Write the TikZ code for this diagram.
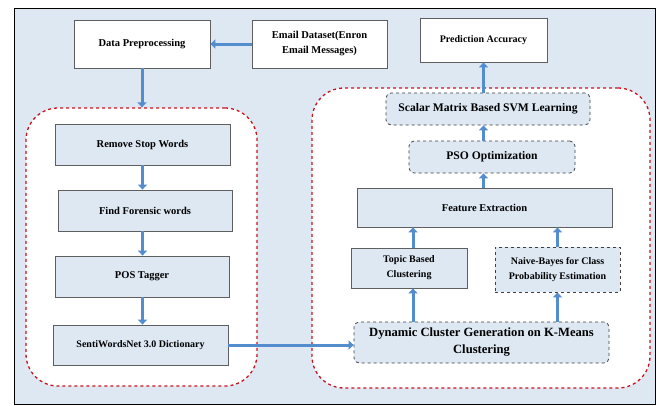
\documentclass[tikz,border=0pt]{standalone}
\usepackage{fontspec}
\setmainfont{Liberation Serif}
\usetikzlibrary{arrows.meta,positioning}
\definecolor{FrameBlue}{RGB}{221,232,243}
\definecolor{FlowBlue}{RGB}{84,141,205}
\definecolor{RegionRed}{RGB}{200,20,30}
\definecolor{BoxGray}{RGB}{95,95,95}

\begin{document}
\begin{tikzpicture}[x=1pt,y=-1pt,
  plainbox/.style={draw=BoxGray,fill=white,line width=0.8pt,align=center,font=\fontsize{10.5}{15}\selectfont\bfseries},
  stagebox/.style={draw=BoxGray,fill=FrameBlue,line width=0.8pt,align=center,font=\fontsize{10.5}{15}\selectfont\bfseries},
  dashbox/.style={stagebox,dashed,rounded corners=5pt,draw=black!75},
  region/.style={draw=RegionRed,fill=white,dashed,line width=1.3pt,rounded corners=32pt},
  flow/.style={draw=FlowBlue,line width=3pt,-{Triangle[length=5pt,width=9pt]}}]
\useasboundingbox (0,0) rectangle (662,405);
\draw[fill=FrameBlue,line width=0.8pt] (14,8) rectangle (655,404);

% dashed groups
\node[region,minimum width=231,minimum height=278] (leftgrp) at (141.5,247) {};
\node[region,minimum width=338,minimum height=300] (rightgrp) at (481,238) {};

% top row
\node[plainbox,minimum width=136,minimum height=48] (prep) at (142,44) {Data Preprocessing};
\node[plainbox,minimum width=135,minimum height=48] (email) at (319.5,44) {Email Dataset(Enron\\Email Messages)};
\node[plainbox,minimum width=127,minimum height=44,font=\fontsize{10}{12}\selectfont\bfseries] (predict) at (483.5,40) {Prediction Accuracy};

% left column
\node[stagebox,minimum width=175,minimum height=41] (stopw) at (142.5,144.5) {Remove Stop Words};
\node[stagebox,minimum width=174,minimum height=41] (forensic) at (145,210.5) {Find Forensic words};
\node[stagebox,minimum width=174,minimum height=41] (postag) at (142,276.5) {POS Tagger};
\node[stagebox,minimum width=175,minimum height=40,font=\fontsize{10}{12}\selectfont\bfseries] (senti) at (140.5,345) {SentiWordsNet 3.0 Dictionary};

% right column
\node[dashbox,minimum width=204,minimum height=32,font=\fontsize{11.6}{13}\selectfont\bfseries] (svm) at (488,109) {Scalar Matrix Based SVM Learning};
\node[dashbox,minimum width=166,minimum height=32,font=\fontsize{11.6}{13}\selectfont\bfseries] (pso) at (492,157) {PSO Optimization};
\node[stagebox,minimum width=255,minimum height=39] (feature) at (484.5,207.5) {Feature Extraction};
\node[stagebox,minimum width=116,minimum height=40,font=\fontsize{10}{15}\selectfont\bfseries] (topic) at (409,268) {Topic Based\\Clustering};
\node[dashbox,rounded corners=0pt,minimum width=125,minimum height=45,font=\fontsize{10}{15}\selectfont\bfseries] (naive) at (557.5,269.5) {Naive-Bayes for Class\\Probability Estimation};
\node[dashbox,minimum width=255,minimum height=41,font=\fontsize{12.6}{17}\selectfont\bfseries] (kmeans) at (481.5,342.5) {Dynamic Cluster Generation on K-Means\\Clustering};

% connectors
\draw[flow] (email) -- (prep);
\draw[flow] (prep) -- (prep |- leftgrp.north);
\draw[flow] (stopw.south) -- (stopw.south |- forensic.north);
\draw[flow] (stopw.south |- forensic.south) -- (stopw.south |- postag.north);
\draw[flow] (stopw.south |- postag.south) -- (stopw.south |- senti.north);
\draw[flow] (senti.east) -- (senti.east -| kmeans.west);
\draw[flow] ([xshift=4pt]topic.south |- kmeans.north) -- ([xshift=4pt]topic.south);
\draw[flow] (naive.south |- kmeans.north) -- (naive.south);
\draw[flow] ([xshift=4pt]topic.north) -- ([xshift=4pt]topic.north |- feature.south);
\draw[flow] (naive.north) -- (naive.north |- feature.south);
\draw[flow] (predict.south |- feature.north) -- (predict.south |- pso.south);
\draw[flow] (predict.south |- pso.north) -- (predict.south |- svm.south);
\draw[flow] (predict.south |- svm.north) -- (predict.south);
\end{tikzpicture}
\end{document}
